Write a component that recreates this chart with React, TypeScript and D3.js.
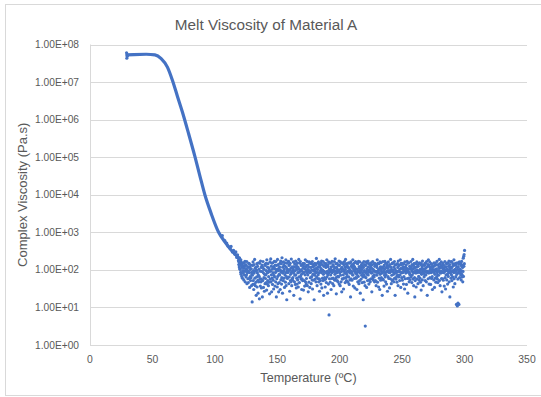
import React from "react";
import * as d3 from "d3";

// ---- data ----
const title = "Melt Viscosity of Material A";
const xTitle = "Temperature (ºC)";
const yTitle = "Complex Viscosity (Pa.s)";
const xTicks = [0, 50, 100, 150, 200, 250, 300, 350];
const yTicks = [1, 10, 100, 1e3, 1e4, 1e5, 1e6, 1e7, 1e8];
const yTickLabels = ["1.00E+00", "1.00E+01", "1.00E+02", "1.00E+03", "1.00E+04", "1.00E+05", "1.00E+06", "1.00E+07", "1.00E+08"];

// first measurements at the start of the sweep (T in ºC, viscosity in Pa.s)
const startTemps = [29.3, 29.5, 29.8, 30.2];
const startVisc = [6.0e7, 4.3e7, 4.8e7, 5.2e7];

// main curve (glassy plateau -> softening), T and viscosity
const curveTemps = [29.5, 35, 45, 52, 57, 62, 66, 70, 74, 79, 84, 88, 92, 97, 103, 108, 113, 118, 121];
const curveVisc = [5.3e7, 5.4e7, 5.5e7, 5.3e7, 4.2e7, 2.5e7, 1.12e7, 4.2e6, 1.6e6, 4.2e5, 1.05e5, 3.2e4, 1.0e4, 3.2e3, 1.0e3, 560, 340, 225, 160];

// noisy transition near the end of the slope
const transTemps = [106, 108, 109.5, 110.5, 112, 113, 114, 115, 116, 116.8, 117.5, 118.2, 119, 119.6, 120.3];
const transVisc = [820, 600, 520, 430, 380, 420, 300, 330, 260, 300, 215, 250, 180, 210, 150];

// melt plateau: readings from 119 ºC to 300 ºC, equally spaced in temperature
const bandRange = [119, 300];
const bandVisc = [
  172,138,163,120,205,107,150,103,146,86,185,76,131,155,67,116,135,60,95,124,
  150,82,155,54,110,118,73,92,168,48,131,93,138,65,104,74,167,43,98,84,
  122,58,116,46,91,150,59,146,85,34,120,66,103,52,135,62,107,38,86,76,
  14,72,131,41,163,52,95,30,138,82,42,190,60,110,38,93,118,47,21,98,
  65,146,35,84,124,53,24,74,155,48,104,67,17,150,57,92,37,172,58,48,
  116,33,91,135,54,19,120,52,167,85,34,107,62,103,27,76,138,43,131,59,
  73,150,46,95,29,185,82,42,118,52,146,86,38,66,110,47,98,23,93,163,
  57,92,196,48,124,74,26,150,60,104,41,155,84,53,122,31,72,116,168,65,
  107,37,135,85,48,167,91,19,131,58,103,35,190,67,43,138,95,26,110,76,
  46,120,73,150,30,98,172,54,86,146,42,62,210,92,24,118,82,52,163,93,
  135,60,103,34,155,74,124,47,84,185,38,116,66,16,150,95,59,104,85,167,
  91,168,43,131,65,138,27,98,150,52,76,110,48,194,86,38,120,58,92,53,
  62,107,163,82,21,122,93,48,146,72,95,41,172,74,116,33,135,60,103,42,
  155,54,84,118,35,85,190,65,104,46,150,91,17,167,67,98,57,131,76,30,
  92,58,138,52,110,150,82,29,124,86,52,146,37,107,74,185,48,120,93,42,
  59,131,84,168,38,103,73,135,26,91,118,47,163,85,95,34,150,62,86,155,
  116,43,146,66,98,54,167,31,122,76,138,53,93,124,16,104,72,150,57,92,
  82,135,48,110,202,65,86,38,150,103,59,120,74,163,48,84,146,58,27,131,
  118,52,95,155,42,107,85,172,33,93,138,60,98,52,167,76,21,124,91,54,
  62,150,86,35,131,57,116,146,46,82,185,65,92,24,135,74,122,42,163,84,
  6.3,103,58,150,93,47,155,73,104,30,120,86,59,168,85,95,43,138,60,98,
  124,38,91,167,54,110,76,198,53,92,146,62,23,118,84,150,52,103,67,48,
  93,135,65,98,172,42,131,82,86,38,163,72,107,48,150,91,26,116,58,155,
  57,104,150,74,31,138,95,60,167,85,122,46,103,190,62,84,146,52,76,120,
  135,66,92,47,118,93,155,65,110,41,86,150,54,98,82,19,163,58,124,91,
  84,53,138,116,73,185,74,37,131,103,150,59,93,120,33,95,85,167,62,107,
  60,155,76,30,104,86,146,48,92,67,168,91,43,122,110,52,163,82,24,98,
  118,93,57,135,72,103,46,150,84,124,65,16,116,74,167,47,95,138,66,38,
  3.2,85,131,62,163,91,34,107,76,150,52,98,172,73,120,86,42,146,54,92,
  103,138,48,93,118,58,155,82,110,26,135,84,59,167,67,104,53,95,146,65,
  74,48,124,150,91,52,92,138,38,86,131,72,116,185,47,93,150,85,98,35,
  146,84,60,107,30,163,76,120,53,103,155,62,91,118,82,21,110,57,167,86,
  54,122,93,37,135,73,104,168,65,84,48,150,74,116,42,150,91,131,27,93,
  110,66,163,86,59,124,95,33,138,85,92,58,190,93,118,43,103,72,146,52,
  91,155,54,98,150,76,48,120,84,167,60,107,21,135,82,95,57,138,86,67,
  47,92,146,74,116,38,172,93,65,131,91,135,52,104,73,185,86,34,110,150,
  138,62,84,150,53,107,85,122,103,42,146,66,116,93,31,163,58,95,118,82,
  98,135,41,110,86,168,59,92,24,150,91,104,60,155,48,84,124,76,54,116,
  72,107,167,65,120,93,46,138,74,103,190,57,86,131,38,110,84,150,62,19,
  116,52,95,146,82,35,118,91,163,58,98,85,135,43,124,92,67,150,53,86,
  93,155,60,104,47,138,84,29,146,76,103,122,54,172,91,107,38,135,82,95,
  65,98,131,74,150,52,110,150,73,86,48,167,93,120,21,92,85,138,58,185,
  135,82,42,124,91,163,62,103,118,41,116,84,146,59,95,138,66,30,104,93,
  92,122,86,54,155,98,34,131,76,150,60,103,47,135,91,107,65,168,85,57,
  74,46,138,95,72,120,93,190,52,110,146,38,84,124,82,92,163,59,116,26,
  131,86,58,150,103,53,135,85,104,37,118,91,167,62,98,31,122,74,95,146,
  54,107,150,76,42,155,92,67,124,84,172,48,103,138,19,93,116,82,163,60,
  110,74,167,52,120,91,65,146,95,35,131,85,185,58,98,135,43,104,86,150,
  66,138,93,12,118,76,155,11,103,57,13,122,84,146,12,92,163,62,107,82,
  86,150,73,131,54,95,168,76,65,135,116,48,91,205,67,230,124,255,146,330,
];

// ---- layout / style ----
const W = 541;
const H = 397;
const M = { left: 90, right: 527, top: 44.5, bottom: 345 };
const BLUE = "#4472C4";
const GRID = "#d9d9d9";
const TEXT = "#595959";
const FONT = "'Liberation Sans', Arial, sans-serif";

export default function App() {
  const x = d3.scaleLinear().domain([0, 350]).range([M.left, M.right]);
  const y = d3.scaleLog().domain([1, 1e8]).range([M.bottom, M.top]);

  const curvePts: [number, number][] = curveTemps.map((t, i) => [t, curveVisc[i]]);
  const line = d3
    .line<[number, number]>()
    .x((d) => x(d[0]))
    .y((d) => y(d[1]))
    .curve(d3.curveMonotoneX);

  const bandStep = (bandRange[1] - bandRange[0]) / (bandVisc.length - 1);
  const bandPts = bandVisc.map((v, i) => [bandRange[0] + i * bandStep, v] as [number, number]);
  const dots: [number, number][] = [
    ...startTemps.map((t, i) => [t, startVisc[i]] as [number, number]),
    ...transTemps.map((t, i) => [t, transVisc[i]] as [number, number]),
    ...bandPts,
  ];

  return (
    <svg
      width={W}
      height={H}
      style={{ position: "absolute", left: 0, top: 0, display: "block", background: "#fff" }}
    >
      <rect x={5.5} y={4.5} width={W} height={391} fill="#fff" stroke={GRID} strokeWidth={1} />
      <text x={266} y={30} textAnchor="middle" fontFamily={FONT} fontSize={15.3} fill={TEXT}>
        {title}
      </text>
      {/* gridlines */}
      {yTicks.map((t) => (
        <line key={"g" + t} x1={M.left} x2={M.right} y1={Math.round(y(t)) + 0.5} y2={Math.round(y(t)) + 0.5} stroke={GRID} strokeWidth={1} />
      ))}
      <line x1={M.left + 0.5} x2={M.left + 0.5} y1={M.top} y2={M.bottom} stroke={GRID} strokeWidth={1} />
      {/* y tick labels */}
      {yTicks.map((t, i) => (
        <text key={"yl" + t} x={79} y={y(t)} dy="0.35em" textAnchor="end" fontFamily={FONT} fontSize={10.2} fill={TEXT}>
          {yTickLabels[i]}
        </text>
      ))}
      {/* x tick labels */}
      {xTicks.map((t) => (
        <text key={"xl" + t} x={x(t)} y={359} dy="0.35em" textAnchor="middle" fontFamily={FONT} fontSize={10.4} fill={TEXT}>
          {t}
        </text>
      ))}
      <text x={(M.left + M.right) / 2} y={382} textAnchor="middle" fontFamily={FONT} fontSize={12.6} fill={TEXT}>
        {xTitle}
      </text>
      <text
        transform={`translate(27, ${(M.top + M.bottom) / 2}) rotate(-90)`}
        textAnchor="middle"
        fontFamily={FONT}
        fontSize={13}
        fill={TEXT}
      >
        {yTitle}
      </text>
      {/* data */}
      <path d={line(curvePts) || ""} fill="none" stroke={BLUE} strokeWidth={3.2} strokeLinecap="round" />
      {dots.map((d, i) => (
        <circle key={"d" + i} cx={x(d[0])} cy={y(d[1])} r={1.6} fill={BLUE} />
      ))}
    </svg>
  );
}
